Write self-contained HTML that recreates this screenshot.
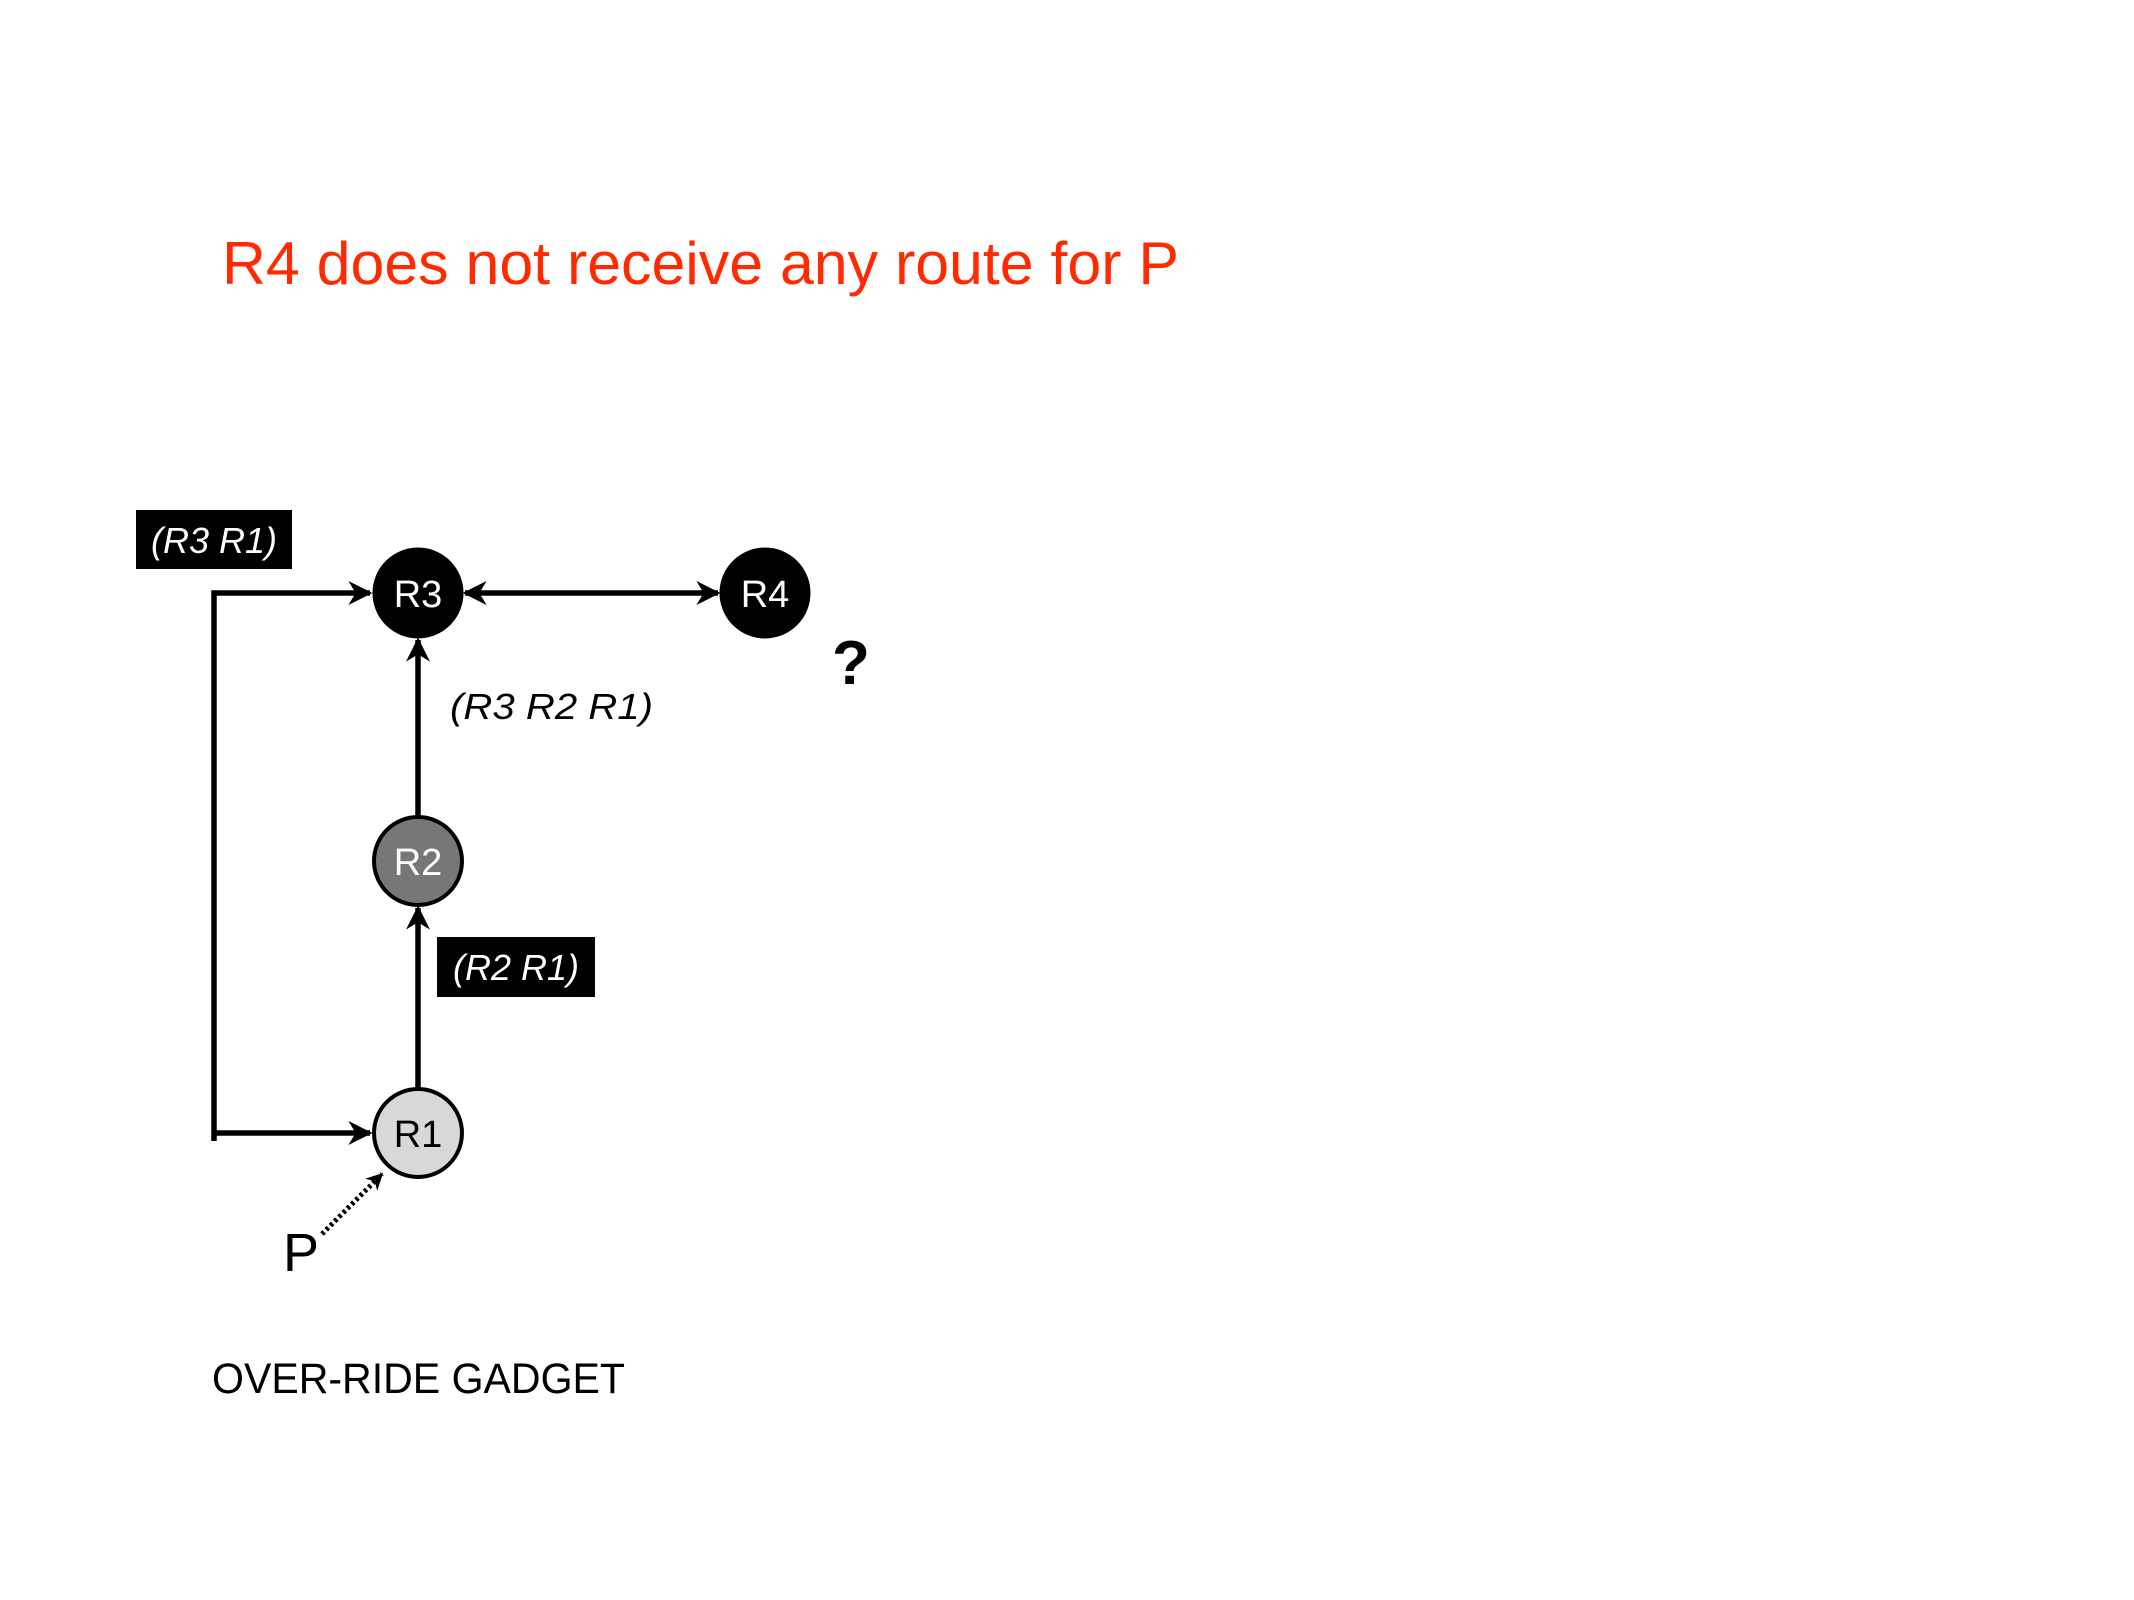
<!DOCTYPE html>
<html><head><meta charset="utf-8"><style>
html,body{margin:0;padding:0;background:#fff;}
svg{display:block;}
text{font-family:"Liberation Sans",sans-serif;}
</style></head><body>
<svg width="2134" height="1600" viewBox="0 0 2134 1600" xmlns="http://www.w3.org/2000/svg">
<defs>
<marker id="ah" viewBox="0 0 20 20" refX="18" refY="10" markerWidth="24" markerHeight="24" markerUnits="userSpaceOnUse" orient="auto-start-reverse">
<path d="M0,0 L20,10 L0,20 L6,10 Z" fill="#000"/>
</marker>
<marker id="ah2" viewBox="0 0 20 20" refX="18" refY="10" markerWidth="17" markerHeight="17" markerUnits="userSpaceOnUse" orient="auto">
<path d="M0,0 L20,10 L0,20 L6,10 Z" fill="#000"/>
</marker>
</defs>
<text x="222" y="284" font-size="60" fill="#ff2a00" textLength="957" lengthAdjust="spacingAndGlyphs">R4 does not receive any route for P</text>

<g transform="translate(-3,-4)">
<polyline points="217,1145 217,597 373,597" fill="none" stroke="#000" stroke-width="5.5" marker-end="url(#ah)"/>
<line x1="217" y1="1137" x2="373" y2="1137" stroke="#000" stroke-width="5.5" marker-end="url(#ah)"/>
<line x1="421" y1="820" x2="421" y2="644" stroke="#000" stroke-width="5.5" marker-end="url(#ah)"/>
<line x1="421" y1="1092" x2="421" y2="912" stroke="#000" stroke-width="5.5" marker-end="url(#ah)"/>
<line x1="468" y1="597" x2="721" y2="597" stroke="#000" stroke-width="5.5" marker-start="url(#ah)" marker-end="url(#ah)"/>
<line x1="325" y1="1238" x2="385" y2="1178" stroke="#000" stroke-width="5" stroke-dasharray="3,3" marker-end="url(#ah2)"/>

<circle cx="421" cy="597" r="44" fill="#000" stroke="#000" stroke-width="3"/>
<circle cx="768" cy="597" r="44" fill="#000" stroke="#000" stroke-width="3"/>
<circle cx="421" cy="865" r="44" fill="#777" stroke="#000" stroke-width="4"/>
<circle cx="421" cy="1137" r="44" fill="#d8d8d8" stroke="#000" stroke-width="4"/>
<text x="421" y="611" font-size="38" fill="#fff" text-anchor="middle">R3</text>
<text x="768" y="611" font-size="38" fill="#fff" text-anchor="middle">R4</text>
<text x="421" y="879" font-size="38" fill="#fff" text-anchor="middle">R2</text>
<text x="421" y="1151" font-size="38" fill="#000" text-anchor="middle">R1</text>

<rect x="139" y="514" width="156" height="59" fill="#000"/>
<text x="217" y="557" font-size="36" font-style="italic" fill="#fff" text-anchor="middle">(R3 R1)</text>
<rect x="440" y="941" width="158" height="60" fill="#000"/>
<text x="519" y="984" font-size="36" font-style="italic" fill="#fff" text-anchor="middle">(R2 R1)</text>
<text x="453" y="723" font-size="36" font-style="italic" fill="#000" textLength="203" lengthAdjust="spacingAndGlyphs">(R3 R2 R1)</text>
<text x="835" y="688" font-size="62" font-weight="bold" fill="#000">?</text>
<text x="286" y="1275" font-size="54" fill="#000">P</text>
</g>
<text x="212" y="1393" font-size="43" fill="#000" textLength="413" lengthAdjust="spacingAndGlyphs">OVER-RIDE GADGET</text>
</svg>
</body></html>
